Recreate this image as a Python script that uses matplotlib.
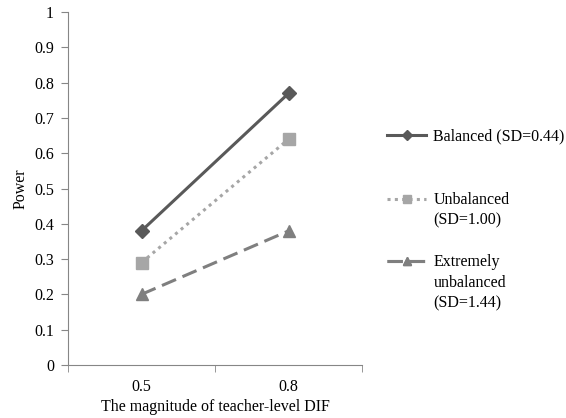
import matplotlib.pyplot as plt
from matplotlib.ticker import FixedLocator

plt.rcParams['font.family'] = ['Liberation Serif', 'DejaVu Serif']

categories = ['0.5', '0.8']
balanced = [0.38, 0.77]
unbalanced = [0.29, 0.64]
extreme = [0.20, 0.38]

labels = ['Balanced (SD=0.44)', 'Unbalanced\n(SD=1.00)', 'Extremely\nunbalanced\n(SD=1.44)']

fs = 11.5
fig = plt.figure(figsize=(5.66, 4.18), dpi=100)
ax = fig.add_axes([0.120, 0.127, 0.520, 0.844])

x = range(len(categories))
l1, = ax.plot(x, balanced, color='#595959', linestyle='-', linewidth=2.2,
              marker='D', markersize=7)
l2, = ax.plot(x, unbalanced, color='#a6a6a6', linestyle=(0, (1, 1.4)), linewidth=2.2,
              marker='s', markersize=9)
l3, = ax.plot(x, extreme, color='#7f7f7f', linestyle=(0, (5, 2.3)), linewidth=2.2,
              marker='^', markersize=9)

ax.set_xlim(-0.5, 1.5)
ax.set_ylim(0, 1)
ax.set_xticks(list(x))
ax.set_xticklabels(categories)
ax.xaxis.set_minor_locator(FixedLocator([-0.5, 0.5, 1.5]))
ax.tick_params(axis='x', which='major', length=0, pad=10, labelsize=fs)
ax.tick_params(axis='x', which='minor', length=5, color='#868686')
ax.set_yticks([i / 10 for i in range(11)])
ax.set_yticklabels(['0', '0.1', '0.2', '0.3', '0.4', '0.5', '0.6', '0.7', '0.8', '0.9', '1'])
ax.tick_params(axis='y', length=5, color='#868686', labelsize=fs, pad=5)

for s in ['top', 'right']:
    ax.spines[s].set_visible(False)
for s in ['left', 'bottom']:
    ax.spines[s].set_color('#868686')

ax.set_ylabel('Power', fontsize=fs, labelpad=4)
ax.set_xlabel('The magnitude of teacher-level DIF', fontsize=fs, labelpad=3)

# legend: handle sits beside the first line of each (wrapped) label
first_line = [0.646, 0.465, 0.290]
for line, lab, y in zip([l1, l2, l3], labels, first_line):
    leg = ax.legend([line], [''], loc='center left', bbox_to_anchor=(1.085, y),
                    frameon=False, fontsize=fs, handlelength=2.45, handletextpad=0,
                    borderpad=0, borderaxespad=0, markerscale=0.7)
    ax.add_artist(leg)
    ax.text(1.2415, y + 0.025, lab, transform=ax.transAxes, va='top', ha='left',
            fontsize=fs, linespacing=1.4, clip_on=False)

fig.savefig('out.png', dpi=100)
